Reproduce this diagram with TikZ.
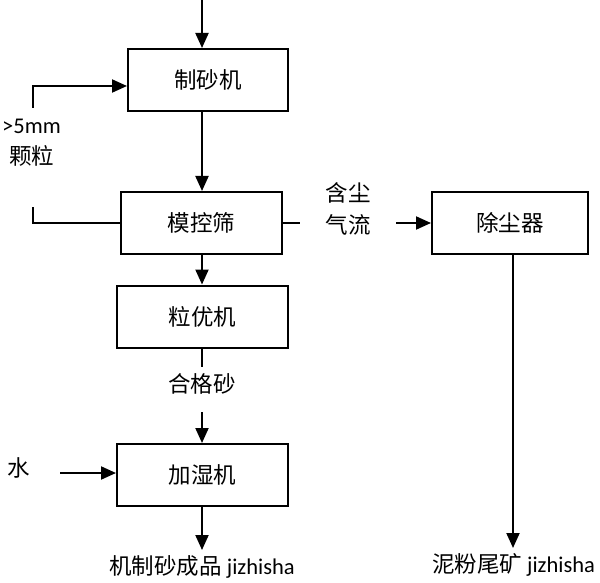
\documentclass[tikz,border=0pt]{standalone}
\usepackage{fontspec}
\setmainfont{Carlito}
\newfontfamily\cjk{Noto Sans CJK SC}
\usetikzlibrary{arrows.meta}
\begin{document}
\begin{tikzpicture}[x=1pt,y=-1pt,
  box/.style={draw,line width=2pt,minimum width=#1,minimum height=62pt,inner sep=0pt,font=\cjk\fontsize{22.5}{26}\selectfont},
  lbl/.style={inner sep=0pt,font=\fontsize{22.5}{32}\selectfont,align=center},
  ln/.style={line width=2pt},
  arr/.style={line width=2pt,-{Triangle[length=15pt,width=13pt]}}]
\useasboundingbox (0,0) rectangle (600,583);
\coordinate (cx) at (202,0);
\node[box=160pt] (b1) at (208,80) {制砂机};
\node[box=161pt] (b2) at (201.5,223) {模控筛};
\node[box=171pt] (b3) at (202.5,316.5) {粒优机};
\node[box=171pt] (b4) at (202.5,475) {加湿机};
\node[box=156pt] (b5) at (510,223) {除尘器};
% top input
\coordinate (in) at (202,0);
\draw[arr] (in) -- (in |- b1.north);
\draw[arr] (b1.south -| cx) -- (b2.north -| cx);
\draw[arr] (b2.south -| cx) -- (b3.north -| cx);
% feedback
\coordinate (fbTop) at (33,108);
\coordinate (fbIn) at (0,86);
\draw[arr] (fbTop) |- (b1.west |- fbIn);
\node[lbl,anchor=west] (p5) at (2,126) {>5mm};
\node[lbl,anchor=west] (kl) at (9,156) {\cjk 颗粒};
\coordinate (fbBot) at (33,207);
\draw[ln] (b2.west) -| (fbBot);
% dust air
\coordinate (r1) at (300,223);
\draw[ln] (b2.east) -- (r1);
\node[lbl] (hc) at (348,209) {\cjk 含尘\\\cjk 气流};
\coordinate (r2) at (396,223);
\draw[arr] (r2) -- (b5.west);
\coordinate (c5) at (513,0);
\coordinate (e5) at (513,548);
\draw[arr] (b5.south -| c5) -- (e5);
\node[lbl] (nf) at (513.5,565) {{\cjk 泥粉尾矿} jizhisha};
% qualified sand
\coordinate (q1) at (202,367);
\draw[ln] (b3.south -| cx) -- (q1);
\node[lbl] (hgs) at (202,384) {\cjk 合格砂};
\coordinate (q2) at (202,412);
\draw[arr] (q2) -- (b4.north -| cx);
% water
\node[lbl] (w) at (19,468) {\cjk 水};
\coordinate (w1) at (60,473);
\draw[arr] (w1) -- (b4.west |- w1);
% output
\coordinate (o1) at (202,550);
\draw[arr] (b4.south -| cx) -- (o1);
\node[lbl] (out) at (202,567) {{\cjk 机制砂成品} jizhisha};
\end{tikzpicture}
\end{document}
